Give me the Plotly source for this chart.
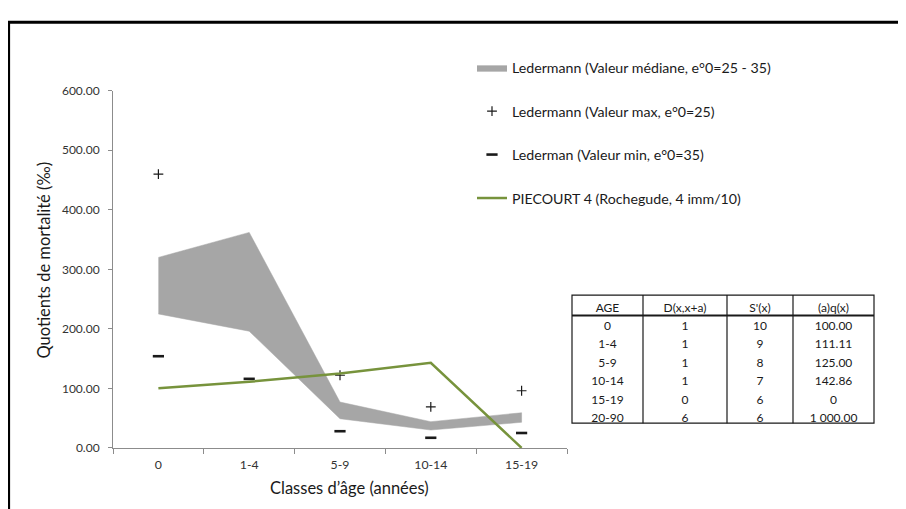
import plotly.graph_objects as go

W, H = 906, 509
OFF = 8  # default page margin of the html body

categories = ["0", "1-4", "5-9", "10-14", "15-19"]
median_upper = [320, 362, 77, 44, 59]
median_lower = [225, 196, 49, 30, 43]
max_values = [460, 607, 122, 69, 96]
min_values = [154, 116, 28, 17, 25]
piecourt = [100.00, 111.11, 125.00, 142.86, 0]

table_header = ["AGE", "D(x,x+a)", "S'(x)", "(a)q(x)"]
table_age = ["0", "1-4", "5-9", "10-14", "15-19", "20-90"]
table_d = ["1", "1", "1", "1", "0", "6"]
table_s = ["10", "9", "8", "7", "6", "6"]
table_q = ["100.00", "111.11", "125.00", "142.86", "0", "1 000.00"]

FONT = "Lato"
TXT = "#1a1a1a"

def px_x(p):
    return (p - OFF) / W

def px_y(p):
    return 1 - (p - OFF) / H

fig = go.Figure()

fig.add_trace(go.Scatter(
    x=categories + categories[::-1],
    y=median_upper + median_lower[::-1],
    fill="toself", fillcolor="#A6A6A6", mode="lines",
    line=dict(color="#A6A6A6", width=0.5),
    name="Ledermann (Valeur médiane, e°0=25 - 35)",
    legendgroup="a", hoverinfo="skip",
))
fig.add_trace(go.Scatter(
    x=categories, y=max_values, mode="markers", cliponaxis=False,
    marker=dict(symbol="cross-thin", size=7, line=dict(color=TXT, width=1.2)),
    name="Ledermann (Valeur max, e°0=25)", legendgroup="b",
))
fig.add_trace(go.Scatter(
    x=categories, y=min_values, mode="markers", cliponaxis=False,
    marker=dict(symbol="line-ew", size=8, line=dict(color=TXT, width=2.6)),
    name="Lederman (Valeur min, e°0=35)", legendgroup="c",
))
fig.add_trace(go.Scatter(
    x=categories, y=piecourt, mode="lines",
    line=dict(color="#77933C", width=2.5),
    name="PIECOURT 4 (Rochegude, 4 imm/10)", legendgroup="d",
))

# Table
tx0, tx1 = 572, 874
ty0, ty1 = 295.5, 427.5
col_edges = [572, 643, 727, 793, 874]
colw = [col_edges[i + 1] - col_edges[i] for i in range(4)]
fig.add_trace(go.Table(
    domain=dict(x=[px_x(tx0), px_x(tx1)], y=[px_y(ty1 + 8), px_y(ty0)]),
    columnwidth=colw,
    header=dict(values=table_header, height=18, align="center",
                fill=dict(color="rgba(0,0,0,0)"), line=dict(color="rgba(0,0,0,0)", width=0),
                font=dict(family=FONT, size=12, color=TXT)),
    cells=dict(values=[table_age, table_d, table_s, table_q], height=18.4, align="center",
               fill=dict(color="rgba(0,0,0,0)"), line=dict(color="rgba(0,0,0,0)", width=0),
               font=dict(family=FONT, size=12, color=TXT)),
))

shapes = []
shapes.append(dict(type="rect", xref="paper", yref="paper",
                   x0=px_x(8.6), x1=px_x(940), y0=px_y(540), y1=px_y(14.5),
                   line=dict(color="black", width=3)))
shapes.append(dict(type="rect", xref="paper", yref="paper",
                   x0=px_x(tx0), x1=px_x(tx1), y0=px_y(ty1), y1=px_y(ty0),
                   line=dict(color=TXT, width=1.2)))
for e in col_edges[1:-1]:
    shapes.append(dict(type="line", xref="paper", yref="paper",
                       x0=px_x(e), x1=px_x(e), y0=px_y(ty1), y1=px_y(ty0),
                       line=dict(color=TXT, width=1.2)))
shapes.append(dict(type="line", xref="paper", yref="paper",
                   x0=px_x(tx0), x1=px_x(tx1), y0=px_y(316.5), y1=px_y(316.5),
                   line=dict(color=TXT, width=2)))

annotations = [
    dict(text="Quotients de mortalité (‰)", xref="paper", yref="paper",
         x=px_x(44), y=px_y(260), xanchor="center", yanchor="middle",
         textangle=-90, showarrow=False,
         font=dict(family=FONT, size=16.5, color=TXT)),
    dict(text="Classes d’âge (années)", xref="paper", yref="paper",
         x=px_x(349), y=px_y(494), xanchor="center", yanchor="middle",
         showarrow=False,
         font=dict(family=FONT, size=16.5, color=TXT)),
]

fig.update_layout(
    width=W, height=H,
    margin=dict(l=0, r=0, t=0, b=0),
    paper_bgcolor="white", plot_bgcolor="white",
    font=dict(family=FONT, color=TXT),
    shapes=shapes, annotations=annotations,
    showlegend=True,
    legend=dict(x=px_x(472), y=px_y(45), xanchor="left", yanchor="top",
                font=dict(family=FONT, size=14.2, color=TXT),
                bgcolor="rgba(0,0,0,0)", tracegroupgap=22, traceorder="grouped"),
    xaxis=dict(domain=[px_x(113), px_x(567)], type="category",
               categoryorder="array", categoryarray=categories,
               range=[-0.5, 4.5], showline=True, linecolor="#8c8c8c", linewidth=1,
               ticks="outside", tickson="boundaries", ticklen=5, tickcolor="#8c8c8c",
               showgrid=False, zeroline=False, ticklabelstandoff=5,
               tickfont=dict(family=FONT, size=12.3, color="#333")),
    yaxis=dict(domain=[px_y(453), px_y(85)], range=[0, 600], dtick=100,
               tickformat=".2f", showline=True, linecolor="#8c8c8c", linewidth=1,
               ticks="outside", ticklen=4, tickcolor="#8c8c8c",
               showgrid=False, zeroline=False, ticklabelstandoff=6,
               tickfont=dict(family=FONT, size=12, color="#333")),
)

fig.write_html("out.html", config={"displayModeBar": False})
